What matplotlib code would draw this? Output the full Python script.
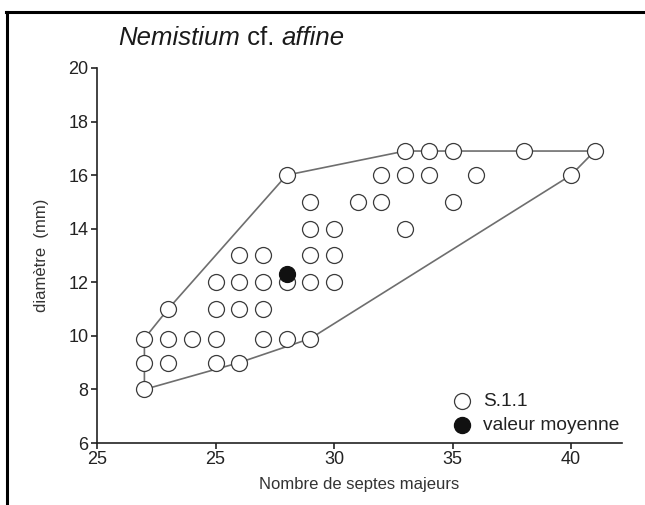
import matplotlib
matplotlib.use("Agg")
import matplotlib.pyplot as plt
from matplotlib.lines import Line2D

plt.rcParams['font.family'] = ['Liberation Sans', 'DejaVu Sans']

# ---- data ----
# open circles (S.1.1): septa counts and diameters
sample_x = [33, 34, 35, 38, 41,
            28, 32, 33, 34, 36, 40,
            29, 31, 32, 35,
            29, 30, 33,
            26, 27, 29, 30,
            25, 26, 27, 28, 29, 30,
            23, 25, 26, 27,
            22, 23, 24, 25, 27, 28, 29,
            22, 23, 25, 26,
            22]
sample_y = [16.9, 16.9, 16.9, 16.9, 16.9,
            16, 16, 16, 16, 16, 16,
            15, 15, 15, 15,
            14, 14, 14,
            13, 13, 13, 13,
            12, 12, 12, 12, 12, 12,
            11, 11, 11, 11,
            9.9, 9.9, 9.9, 9.9, 9.9, 9.9, 9.9,
            9, 9, 9, 9,
            8]
# mean value
mean_x = [28]
mean_y = [12.3]
# envelope (convex hull)
hull_x = [22, 22, 22, 23, 28, 33, 34, 35, 38, 41, 40, 29, 26, 22]
hull_y = [8, 9, 9.9, 11, 16, 16.9, 16.9, 16.9, 16.9, 16.9, 16, 9.9, 9, 8]

xticks = [20, 25, 30, 35, 40]
xtick_labels = ["25", "25", "30", "35", "40"]
yticks = [6, 8, 10, 12, 14, 16, 18, 20]

W, H = 645, 505
fig = plt.figure(figsize=(W / 100, H / 100), dpi=100)
fig.patch.set_facecolor('white')

left, right, bottom, top = 97, 622, 443, 68
ax = fig.add_axes([left / W, 1 - bottom / H, (right - left) / W, (bottom - top) / H])
ax.set_xlim(20, 42.15)
ax.set_ylim(6, 20)

ax.plot(hull_x, hull_y, color='#6e6e6e', lw=1.2, zorder=2, clip_on=False)
ax.plot(sample_x, sample_y, 'o', ms=11.5, mfc='white', mec='#3a3a3a', mew=0.9,
        zorder=3, clip_on=False)
ax.plot(mean_x, mean_y, 'o', ms=11.5, mfc='#111111', mec='#111111', mew=0.9,
        zorder=4, clip_on=False)

for s in ['top', 'right']:
    ax.spines[s].set_visible(False)
for s in ['left', 'bottom']:
    ax.spines[s].set_linewidth(1.2)
    ax.spines[s].set_color('#222222')

ax.set_xticks(xticks)
ax.set_xticklabels(xtick_labels)
ax.set_yticks(yticks)
ax.tick_params(axis='both', direction='out', length=4, width=1.2, color='#222222',
               labelsize=13, labelcolor='#222222', pad=2)

ax.set_xlabel("Nombre de septes majeurs", fontsize=12, color='#333333', labelpad=6)
ax.set_ylabel("diamètre  (mm)", fontsize=12, color='#333333', labelpad=14)

# legend (manual)
lx = (462 - left) / (right - left)
ax.plot([lx], [(bottom - 401) / (bottom - top)], 'o', ms=11.5, mfc='white', mec='#3a3a3a',
        mew=0.9, transform=ax.transAxes, clip_on=False)
ax.plot([lx], [(bottom - 425) / (bottom - top)], 'o', ms=11.5, mfc='#111111', mec='#111111',
        transform=ax.transAxes, clip_on=False)
tx = (483 - left) / (right - left)
ax.text(tx, (bottom - 401) / (bottom - top), "S.1.1", transform=ax.transAxes,
        fontsize=13.8, va='center', ha='left', color='#222222')
ax.text(tx, (bottom - 425) / (bottom - top), "valeur moyenne", transform=ax.transAxes,
        fontsize=13.8, va='center', ha='left', color='#222222')

# title with mixed italic / upright parts
fig.canvas.draw()
renderer = fig.canvas.get_renderer()
x0 = 118 / W
ty = 1 - 38 / H
parts = [("Nemistium", 'italic'), (" cf. ", 'normal'), ("affine", 'italic')]
for txt, style in parts:
    t = fig.text(x0, ty, txt, fontsize=18.5, style=style, va='center', ha='left',
                 color='#1a1a1a')
    bb = t.get_window_extent(renderer=renderer)
    x0 += bb.width / W

# figure border (top and left)
fig.add_artist(Line2D([6 / W, 1.0], [1 - 12 / H, 1 - 12 / H], transform=fig.transFigure,
                      color='black', lw=2.2))
fig.add_artist(Line2D([7 / W, 7 / W], [0, 1 - 12 / H], transform=fig.transFigure,
                      color='black', lw=2.2))

fig.savefig("out.png", dpi=100, facecolor='white')
